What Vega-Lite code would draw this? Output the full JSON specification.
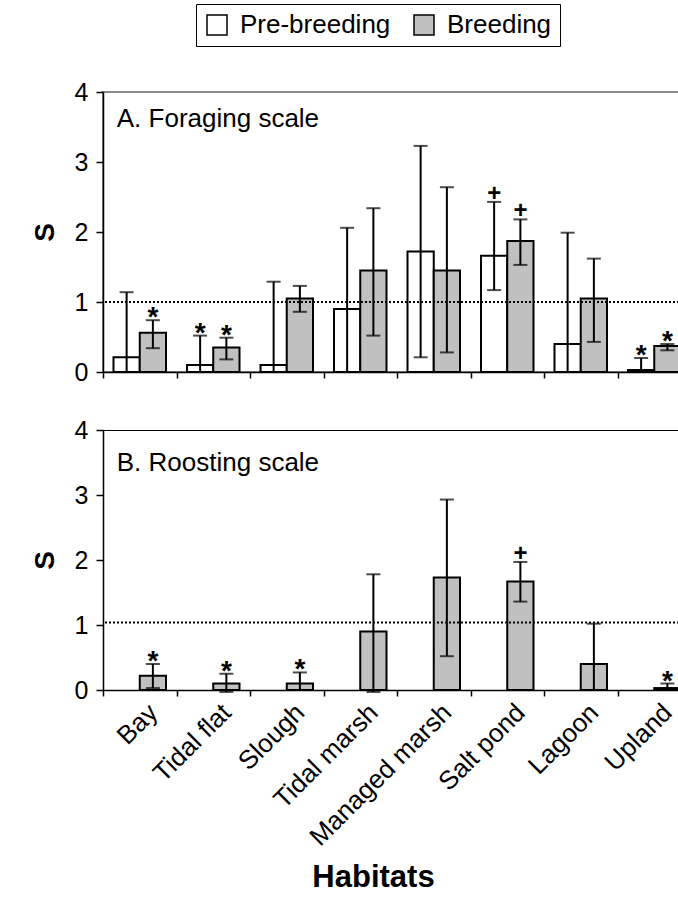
{
  "$schema": "https://vega.github.io/schema/vega-lite/v6.json",
  "padding": {"left": 30, "top": 3, "right": 0, "bottom": 5},
  "config": {
    "font": "Liberation Sans",
    "view": {"stroke": null},
    "axis": {"domainColor": "black", "domainWidth": 1.5, "tickColor": "black", "tickWidth": 1.5, "labelColor": "black", "titleColor": "black", "grid": false}
  },
  "spacing": 31,
  "datasets": {
    "forage": [
      {"habitat": "Bay", "season": "Pre-breeding", "s": 0.21, "lo": 0, "hi": 1.14, "sig": ""},
      {"habitat": "Bay", "season": "Breeding", "s": 0.56, "lo": 0.34, "hi": 0.74, "sig": "*"},
      {"habitat": "Tidal flat", "season": "Pre-breeding", "s": 0.10, "lo": 0, "hi": 0.52, "sig": "*"},
      {"habitat": "Tidal flat", "season": "Breeding", "s": 0.35, "lo": 0.18, "hi": 0.49, "sig": "*"},
      {"habitat": "Slough", "season": "Pre-breeding", "s": 0.10, "lo": 0, "hi": 1.29, "sig": ""},
      {"habitat": "Slough", "season": "Breeding", "s": 1.05, "lo": 0.86, "hi": 1.23, "sig": ""},
      {"habitat": "Tidal marsh", "season": "Pre-breeding", "s": 0.90, "lo": 0, "hi": 2.06, "sig": ""},
      {"habitat": "Tidal marsh", "season": "Breeding", "s": 1.45, "lo": 0.52, "hi": 2.34, "sig": ""},
      {"habitat": "Managed marsh", "season": "Pre-breeding", "s": 1.72, "lo": 0.21, "hi": 3.23, "sig": ""},
      {"habitat": "Managed marsh", "season": "Breeding", "s": 1.45, "lo": 0.28, "hi": 2.64, "sig": ""},
      {"habitat": "Salt pond", "season": "Pre-breeding", "s": 1.66, "lo": 1.17, "hi": 2.43, "sig": "+"},
      {"habitat": "Salt pond", "season": "Breeding", "s": 1.87, "lo": 1.53, "hi": 2.18, "sig": "+"},
      {"habitat": "Lagoon", "season": "Pre-breeding", "s": 0.40, "lo": 0, "hi": 1.99, "sig": ""},
      {"habitat": "Lagoon", "season": "Breeding", "s": 1.05, "lo": 0.43, "hi": 1.62, "sig": ""},
      {"habitat": "Upland", "season": "Pre-breeding", "s": 0.03, "lo": 0, "hi": 0.20, "sig": "*"},
      {"habitat": "Upland", "season": "Breeding", "s": 0.37, "lo": 0.31, "hi": 0.40, "sig": "*"}
    ],
    "roost": [
      {"habitat": "Bay", "season": "Breeding", "s": 0.22, "lo": 0.03, "hi": 0.40, "sig": "*"},
      {"habitat": "Tidal flat", "season": "Breeding", "s": 0.10, "lo": -0.03, "hi": 0.25, "sig": "*"},
      {"habitat": "Slough", "season": "Breeding", "s": 0.10, "lo": 0, "hi": 0.27, "sig": "*"},
      {"habitat": "Tidal marsh", "season": "Breeding", "s": 0.90, "lo": -0.03, "hi": 1.78, "sig": ""},
      {"habitat": "Managed marsh", "season": "Breeding", "s": 1.73, "lo": 0.52, "hi": 2.93, "sig": ""},
      {"habitat": "Salt pond", "season": "Breeding", "s": 1.67, "lo": 1.36, "hi": 1.97, "sig": "+"},
      {"habitat": "Lagoon", "season": "Breeding", "s": 0.40, "lo": 0, "hi": 1.02, "sig": ""},
      {"habitat": "Upland", "season": "Breeding", "s": 0.03, "lo": 0, "hi": 0.10, "sig": "*"}
    ]
  },
  "vconcat": [
    {
      "width": 588,
      "height": 280,
      "view": {"stroke": "#888", "strokeWidth": 2},
      "data": {"name": "forage"},
      "layer": [
        {
          "mark": {"type": "bar", "stroke": "black", "strokeWidth": 2},
          "encoding": {
            "x": {"field": "habitat", "type": "nominal", "sort": ["Bay", "Tidal flat", "Slough", "Tidal marsh", "Managed marsh", "Salt pond", "Lagoon", "Upland"], "scale": {"paddingInner": 0, "paddingOuter": 0}, "axis": {"labels": false, "title": null, "tickBand": "extent", "tickSize": 6}},
            "xOffset": {"field": "season", "type": "nominal", "scale": {"domain": ["Pre-breeding", "Breeding"], "paddingOuter": 0.4, "paddingInner": 0}},
            "y": {"field": "s", "type": "quantitative", "scale": {"domain": [0, 4], "nice": false}, "axis": {"values": [0, 1, 2, 3, 4], "format": "d", "title": "S", "titleFontSize": 28, "titleFontWeight": "bold", "titlePadding": 15, "labelFontSize": 25, "labelPadding": 8, "tickSize": 7}},
            "fill": {"field": "season", "type": "nominal", "scale": {"domain": ["Pre-breeding", "Breeding"], "range": ["white", "#c0c0c0"]}, "legend": {"orient": "none", "legendX": 93, "legendY": -88, "direction": "horizontal", "title": null, "strokeColor": "black", "padding": 8, "symbolType": "square", "symbolSize": 400, "symbolStrokeColor": "black", "symbolStrokeWidth": 1.5, "labelFontSize": 26, "labelColor": "black", "columnPadding": 20, "labelOffset": 10}}
          }
        },
        {
          "mark": {"type": "rule", "color": "black", "strokeWidth": 2},
          "encoding": {
            "x": {"field": "habitat", "type": "nominal", "sort": ["Bay", "Tidal flat", "Slough", "Tidal marsh", "Managed marsh", "Salt pond", "Lagoon", "Upland"]},
            "xOffset": {"field": "season", "type": "nominal"},
            "y": {"field": "lo", "type": "quantitative"},
            "y2": {"field": "hi"}
          }
        },
        {
          "mark": {"type": "tick", "color": "black", "thickness": 2, "size": 14},
          "encoding": {
            "x": {"field": "habitat", "type": "nominal", "sort": ["Bay", "Tidal flat", "Slough", "Tidal marsh", "Managed marsh", "Salt pond", "Lagoon", "Upland"]},
            "xOffset": {"field": "season", "type": "nominal"},
            "y": {"field": "hi", "type": "quantitative"}
          }
        },
        {
          "transform": [{"filter": "datum.lo != 0"}],
          "mark": {"type": "tick", "color": "black", "thickness": 2, "size": 14},
          "encoding": {
            "x": {"field": "habitat", "type": "nominal", "sort": ["Bay", "Tidal flat", "Slough", "Tidal marsh", "Managed marsh", "Salt pond", "Lagoon", "Upland"]},
            "xOffset": {"field": "season", "type": "nominal"},
            "y": {"field": "lo", "type": "quantitative"}
          }
        },
        {
          "transform": [{"filter": "datum.sig == '*'"}],
          "mark": {"type": "text", "fontSize": 28, "fontWeight": "bold", "baseline": "alphabetic", "dy": 6, "color": "black"},
          "encoding": {
            "x": {"field": "habitat", "type": "nominal", "sort": ["Bay", "Tidal flat", "Slough", "Tidal marsh", "Managed marsh", "Salt pond", "Lagoon", "Upland"]},
            "xOffset": {"field": "season", "type": "nominal"},
            "y": {"field": "hi", "type": "quantitative"},
            "text": {"field": "sig"}
          }
        },
        {
          "transform": [{"filter": "datum.sig == '+'"}],
          "mark": {"type": "text", "fontSize": 24, "fontWeight": "bold", "baseline": "alphabetic", "dy": -1, "color": "black"},
          "encoding": {
            "x": {"field": "habitat", "type": "nominal", "sort": ["Bay", "Tidal flat", "Slough", "Tidal marsh", "Managed marsh", "Salt pond", "Lagoon", "Upland"]},
            "xOffset": {"field": "season", "type": "nominal"},
            "y": {"field": "hi", "type": "quantitative"},
            "text": {"field": "sig"}
          }
        },
        {
          "data": {"values": [{"ref": 1}]},
          "mark": {"type": "rule", "color": "black", "strokeWidth": 2, "strokeDash": [2, 2]},
          "encoding": {"y": {"field": "ref", "type": "quantitative"}}
        },
        {
          "data": {"values": [{"label": "A. Foraging scale", "habitat": "Bay", "ypos": 3.5}]},
          "mark": {"type": "text", "fontSize": 26, "align": "left", "baseline": "alphabetic", "dx": -23, "color": "black"},
          "encoding": {
            "x": {"field": "habitat", "type": "nominal", "sort": ["Bay", "Tidal flat", "Slough", "Tidal marsh", "Managed marsh", "Salt pond", "Lagoon", "Upland"]},
            "y": {"field": "ypos", "type": "quantitative"},
            "text": {"field": "label"}
          }
        }
      ]
    },
    {
      "width": 588,
      "height": 260,
      "view": {"stroke": "black", "strokeWidth": 1},
      "data": {"name": "roost"},
      "layer": [
        {
          "mark": {"type": "bar", "stroke": "black", "strokeWidth": 2},
          "encoding": {
            "x": {"field": "habitat", "type": "nominal", "sort": ["Bay", "Tidal flat", "Slough", "Tidal marsh", "Managed marsh", "Salt pond", "Lagoon", "Upland"], "scale": {"paddingInner": 0, "paddingOuter": 0}, "axis": {"tickBand": "extent", "tickSize": 6, "labelAngle": -45, "labelFontSize": 26, "labelPadding": 3, "labelOffset": 4, "labelLimit": 0, "title": "Habitats", "titleFontSize": 31, "titleFontWeight": "bold", "titlePadding": 12, "titleX": 270}},
            "xOffset": {"field": "season", "type": "nominal", "scale": {"domain": ["Pre-breeding", "Breeding"], "paddingOuter": 0.4, "paddingInner": 0}},
            "y": {"field": "s", "type": "quantitative", "scale": {"domain": [0, 4], "nice": false}, "axis": {"values": [0, 1, 2, 3, 4], "format": "d", "title": "S", "titleFontSize": 28, "titleFontWeight": "bold", "titlePadding": 15, "labelFontSize": 25, "labelPadding": 8, "tickSize": 7}},
            "fill": {"field": "season", "type": "nominal"}
          }
        },
        {
          "mark": {"type": "rule", "color": "black", "strokeWidth": 2},
          "encoding": {
            "x": {"field": "habitat", "type": "nominal", "sort": ["Bay", "Tidal flat", "Slough", "Tidal marsh", "Managed marsh", "Salt pond", "Lagoon", "Upland"]},
            "xOffset": {"field": "season", "type": "nominal"},
            "y": {"field": "lo", "type": "quantitative"},
            "y2": {"field": "hi"}
          }
        },
        {
          "mark": {"type": "tick", "color": "black", "thickness": 2, "size": 14},
          "encoding": {
            "x": {"field": "habitat", "type": "nominal", "sort": ["Bay", "Tidal flat", "Slough", "Tidal marsh", "Managed marsh", "Salt pond", "Lagoon", "Upland"]},
            "xOffset": {"field": "season", "type": "nominal"},
            "y": {"field": "hi", "type": "quantitative"}
          }
        },
        {
          "transform": [{"filter": "datum.lo != 0"}],
          "mark": {"type": "tick", "color": "black", "thickness": 2, "size": 14},
          "encoding": {
            "x": {"field": "habitat", "type": "nominal", "sort": ["Bay", "Tidal flat", "Slough", "Tidal marsh", "Managed marsh", "Salt pond", "Lagoon", "Upland"]},
            "xOffset": {"field": "season", "type": "nominal"},
            "y": {"field": "lo", "type": "quantitative"}
          }
        },
        {
          "transform": [{"filter": "datum.sig == '*'"}],
          "mark": {"type": "text", "fontSize": 28, "fontWeight": "bold", "baseline": "alphabetic", "dy": 6, "color": "black"},
          "encoding": {
            "x": {"field": "habitat", "type": "nominal", "sort": ["Bay", "Tidal flat", "Slough", "Tidal marsh", "Managed marsh", "Salt pond", "Lagoon", "Upland"]},
            "xOffset": {"field": "season", "type": "nominal"},
            "y": {"field": "hi", "type": "quantitative"},
            "text": {"field": "sig"}
          }
        },
        {
          "transform": [{"filter": "datum.sig == '+'"}],
          "mark": {"type": "text", "fontSize": 24, "fontWeight": "bold", "baseline": "alphabetic", "dy": -1, "color": "black"},
          "encoding": {
            "x": {"field": "habitat", "type": "nominal", "sort": ["Bay", "Tidal flat", "Slough", "Tidal marsh", "Managed marsh", "Salt pond", "Lagoon", "Upland"]},
            "xOffset": {"field": "season", "type": "nominal"},
            "y": {"field": "hi", "type": "quantitative"},
            "text": {"field": "sig"}
          }
        },
        {
          "data": {"values": [{"ref": 1.04}]},
          "mark": {"type": "rule", "color": "black", "strokeWidth": 2, "strokeDash": [2, 2]},
          "encoding": {"y": {"field": "ref", "type": "quantitative"}}
        },
        {
          "data": {"values": [{"label": "B. Roosting scale", "habitat": "Bay", "ypos": 3.37}]},
          "mark": {"type": "text", "fontSize": 26, "align": "left", "baseline": "alphabetic", "dx": -23, "color": "black"},
          "encoding": {
            "x": {"field": "habitat", "type": "nominal", "sort": ["Bay", "Tidal flat", "Slough", "Tidal marsh", "Managed marsh", "Salt pond", "Lagoon", "Upland"]},
            "y": {"field": "ypos", "type": "quantitative"},
            "text": {"field": "label"}
          }
        }
      ]
    }
  ]
}
